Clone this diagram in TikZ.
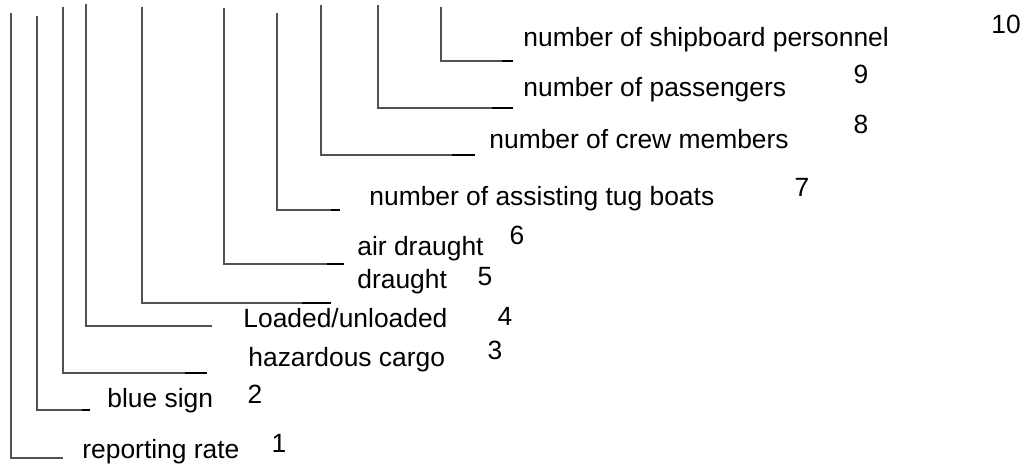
\documentclass[tikz,border=0pt]{standalone}
\usepackage{fontspec}
\setmainfont{Liberation Sans}
\usepackage{tikz}

\begin{document}
\begin{tikzpicture}[x=0.5pt,y=-0.5pt,
		lbl/.style={anchor=base west,inner sep=0pt,font=\fontsize{13.2}{15}\selectfont},
		num/.style={inner sep=0pt,font=\fontsize{13.2}{15}\selectfont},
		lead/.style={draw=black!68,line width=0.55pt},
		tip/.style={draw=black,line width=0.65pt}]
		
		\useasboundingbox (0,0) rectangle (1033,468);
		
		\node(1) at (82,458)[lbl]{reporting rate};
		\node(2) at (107,407)[lbl]{blue sign};
		\node(3) at (248,366)[lbl]{hazardous cargo};
		\node(4) at (243,327)[lbl]{Loaded/unloaded};
		\node(5) at (357,288)[lbl]{draught};
		\node(6) at (357,255)[lbl]{air draught};
		\node(7) at (369,205)[lbl]{number of assisting tug boats};
		\node(8) at (489,148)[lbl]{number of crew members};
		\node(9) at (523,96)[lbl]{number of passengers};
		\node(10) at (523,46)[lbl]{number of shipboard personnel};
		
		\node(1n) at (279,443)[num]{1};
		\node(2n) at (255,394)[num]{2};
		\node(3n) at (495,350)[num]{3};
		\node(4n) at (505,316)[num]{4};
		\node(5n) at (485,277)[num]{5};
		\node(6n) at (517,235)[num]{6};
		\node(7n) at (802,187)[num]{7};
		\node(8n) at (861,124)[num]{8};
		\node(9n) at (861,74)[num]{9};
		\node(10n) at (1006,24)[num]{10};
		
		\coordinate(1a) at (11,13);   \coordinate(1b) at (63,458);
		\coordinate(2a) at (37,16);   \coordinate(2b) at (90,410);
		\coordinate(3a) at (63,7);    \coordinate(3b) at (207,373);
		\coordinate(4a) at (86,4);    \coordinate(4b) at (212,326);
		\coordinate(5a) at (142,7);   \coordinate(5b) at (331,303);
		\coordinate(6a) at (224,8);   \coordinate(6b) at (344,264);
		\coordinate(7a) at (277,13);  \coordinate(7b) at (340,210);
		\coordinate(8a) at (321,5);   \coordinate(8b) at (475,155);
		\coordinate(9a) at (378,5);   \coordinate(9b) at (513,108);
		\coordinate(10a) at (441,7);  \coordinate(10b) at (513,61);
		
			\draw[lead] (1a) |- (1b);
			\draw[lead] (2a) |- (2b);
			\draw[lead] (3a) |- (3b);
			\draw[lead] (4a) |- (4b);
			\draw[lead] (5a) |- (5b);
			\draw[lead] (6a) |- (6b);
			\draw[lead] (7a) |- (7b);
			\draw[lead] (8a) |- (8b);
			\draw[lead] (9a) |- (9b);
			\draw[lead] (10a) |- (10b);
			\draw[tip] (2b) -- ++(-8,0);
			\draw[tip] (3b) -- ++(-22,0);
			\draw[tip] (5b) -- ++(-29,0);
			\draw[tip] (6b) -- ++(-17,0);
			\draw[tip] (7b) -- ++(-9,0);
			\draw[tip] (8b) -- ++(-23,0);
			\draw[tip] (9b) -- ++(-21,0);
			\draw[tip] (10b) -- ++(-11,0);
		
	\end{tikzpicture}
\end{document}
